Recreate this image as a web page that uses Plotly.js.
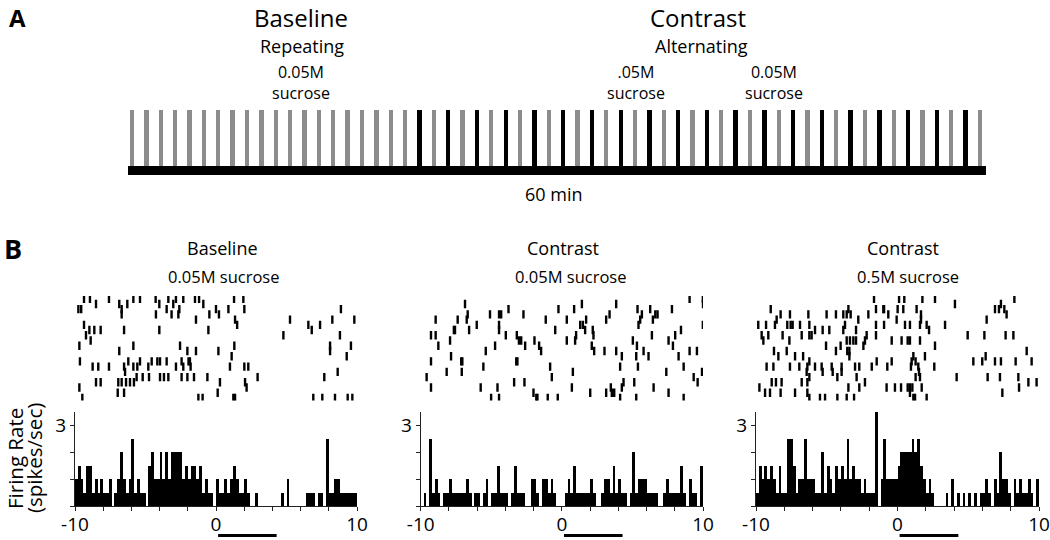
<!DOCTYPE html>
<html><head><meta charset="utf-8">
<script src="https://cdn.plot.ly/plotly-3.0.1.min.js"></script>
<style>html,body{margin:0;padding:0;background:#fff}#chart{width:1050px;height:540px}</style>
</head><body><div id="chart"></div>
<script>
// ---------- Panel A: session timeline (60 trials over 60 min) ----------
const trialNumbers = [1,2,3,4,5,6,7,8,9,10,11,12,13,14,15,16,17,18,19,20,
  21,22,23,24,25,26,27,28,29,30,31,32,33,34,35,36,37,38,39,40,
  41,42,43,44,45,46,47,48,49,50,51,52,53,54,55,56,57,58,59,60];
const trialSolution = [
  "0.05M","0.05M","0.05M","0.05M","0.05M","0.05M","0.05M","0.05M","0.05M","0.05M",
  "0.05M","0.05M","0.05M","0.05M","0.05M","0.05M","0.05M","0.05M","0.05M","0.05M",
  "0.5M","0.05M","0.5M","0.05M","0.5M","0.05M","0.5M","0.05M","0.5M","0.05M",
  "0.5M","0.05M","0.5M","0.05M","0.5M","0.05M","0.5M","0.05M","0.5M","0.05M",
  "0.5M","0.05M","0.5M","0.05M","0.5M","0.05M","0.5M","0.05M","0.5M","0.05M",
  "0.5M","0.05M","0.5M","0.05M","0.5M","0.05M","0.5M","0.05M","0.5M","0.05M"];
const trialMarkHeight = 1;
const solutionColor = {"0.05M": "#8c8c8c", "0.5M": "#000000"};

// ---------- Panel B: peri-stimulus histograms (0.2 s bins, spikes/sec) ----------
const binCenters = [-9.9,-9.7,-9.5,-9.3,-9.1,-8.9,-8.7,-8.5,-8.3,-8.1,
  -7.9,-7.7,-7.5,-7.3,-7.1,-6.9,-6.7,-6.5,-6.3,-6.1,
  -5.9,-5.7,-5.5,-5.3,-5.1,-4.9,-4.7,-4.5,-4.3,-4.1,
  -3.9,-3.7,-3.5,-3.3,-3.1,-2.9,-2.7,-2.5,-2.3,-2.1,
  -1.9,-1.7,-1.5,-1.3,-1.1,-0.9,-0.7,-0.5,-0.3,-0.1,
  0.1,0.3,0.5,0.7,0.9,1.1,1.3,1.5,1.7,1.9,
  2.1,2.3,2.5,2.7,2.9,3.1,3.3,3.5,3.7,3.9,
  4.1,4.3,4.5,4.7,4.9,5.1,5.3,5.5,5.7,5.9,
  6.1,6.3,6.5,6.7,6.9,7.1,7.3,7.5,7.7,7.9,
  8.1,8.3,8.5,8.7,8.9,9.1,9.3,9.5,9.7,9.9];
const rateBaseline = [1.0,1.5,1.0,0.5,1.5,1.5,0.5,1.0,0.5,1.0,
  0.5,0.5,1.0,0,0.5,1.0,2.0,1.0,0.5,1.0,
  2.5,0.5,1.0,0.5,0.5,0,1.5,2.0,1.0,1.0,
  2.0,1.0,2.0,1.0,2.0,2.0,2.0,2.0,1.0,1.5,
  1.0,1.5,1.5,1.0,1.5,0.5,1.0,0.5,0.5,0,
  1.0,0.5,0.5,1.0,0.5,1.0,1.5,1.0,0.5,0.5,
  1.0,0.5,0,0,0.5,0,0,0,0,0,
  0,0,0,0.5,0,1.0,0,0,0,0,
  0,0,0.5,0.5,0.5,0,0.5,0.5,0,2.5,
  0.5,0.5,1.0,1.0,0.5,0.5,0.5,0.5,0.5,0.5];
const rateContrastLow = [0,0.5,0,2.5,0.5,1.0,0.5,0,0.5,0.5,
  1.0,0.5,0.5,0.5,0.5,0.5,1.0,0.5,0,0.5,
  0.5,0,0.5,1.0,0,0.5,0.5,1.5,0.5,0.5,
  0.5,0,0.5,1.5,0.5,0.5,0.5,0,0,1.0,
  1.0,0.5,0,1.0,1.0,0.5,1.0,0.5,0,0,
  0,0.5,1.0,0.5,1.5,0.5,0.5,0.5,0.5,0.5,
  1.0,0.5,0,0,0.5,1.0,1.0,0.5,1.5,0.5,
  1.0,0.5,0.5,0,0.5,2.0,0.5,1.0,1.0,1.0,
  0.5,0.5,0.5,0.5,0,0,0.5,1.0,0.5,0.5,
  0.5,0.5,1.5,0.5,0,1.0,0.5,0.5,0,1.5];
const rateContrastHigh = [0.5,1.5,1.0,1.5,1.0,1.5,1.0,0.5,1.5,0.5,
  0.5,2.5,2.5,1.5,0.5,1.0,1.0,2.5,1.0,1.0,
  1.0,0.5,0.5,2.0,0.5,1.5,1.0,0.5,1.5,1.0,
  1.5,1.0,2.5,1.0,1.5,1.0,1.0,0.5,1.0,0.5,
  0.5,0.5,3.5,0,1.0,2.5,1.0,1.0,1.0,1.0,
  1.5,2.0,2.0,2.0,2.0,2.5,2.0,2.5,1.5,1.0,
  0.5,1.0,0.5,0,0,0,0,0.5,0,1.0,
  0,0.5,0,0.5,0,0.5,0,0.5,0,0.5,
  0.5,1.0,0.5,0,1.0,0.5,2.0,1.0,1.0,0.5,
  0,1.0,0.5,1.0,0.5,0.5,1.0,0.5,0,1.0];

// ---------- Panel B: rasters (spike times in s, one array per trial row, top to bottom) ----------
const rasterBaseline = [
  [-9.36,-8.94,-7.59,-5.86,-5.39,-4.28,-3.38,-2.84,-2.32,-1.49,-1.20,1.28,1.94],
  [-8.51,-6.86,-6.29,-4.02,-3.03,-0.90],
  [-9.76,-9.56,-6.69,-3.50,-2.60,0.00,0.88,2.01,8.86],
  [-6.69,-4.26,-3.15,-2.67,-0.47,0.21],
  [-1.42,1.35,5.25,8.25,9.81],
  [-9.36,1.50,6.55,7.38],
  [-8.98,-8.63,-8.18,-6.52,-4.02,-0.54,6.79],
  [-9.22,4.78,8.79],
  [-8.89],
  [-9.69,-5.86,-2.55,1.30,8.09,9.57],
  [-6.86,-2.03,-1.42,0.17,8.09],
  [1.11,9.27],
  [-9.65,-6.22,-5.39,-4.56,-4.16,-3.97,-3.50,-2.44,-1.95,-1.85],
  [-8.75,-8.35,-7.59,-6.52,-5.86,-5.58,-4.80,-2.84,-2.32,-1.80,0.99,2.01,2.29],
  [-6.45,8.63],
  [-5.63,-5.20,-4.75,-3.97,-3.69,-3.38,-2.44,-2.03,-1.56,-0.61,2.95,7.68],
  [-8.51,-8.18,-6.93,-6.69,-6.38,-6.10,-5.82,0.28,2.06],
  [-9.69,2.17],
  [-6.97,-6.52,0.12],
  [-9.48,-1.25,-0.95,1.23,1.35,6.90,7.54,8.44,9.34,9.67]];
const rasterContrastLow = [
  [9.05,9.99],
  [-6.86,1.42,3.85,10.0],
  [-3.78,-0.24,0.87,5.36,6.26,7.80],
  [-6.67,-5.09,-4.45,-4.30,-2.72,3.38,5.67,6.62,6.78],
  [-8.94,-7.38,-6.74,-1.14,0.35,1.72,3.14,5.55,6.45],
  [-6.03,-4.45,1.30,1.49,5.43,9.99],
  [-7.65,-7.57,-6.57,-4.45,-0.47,1.65,2.19,8.44],
  [-9.27,-8.94,-3.97,-3.19,1.01,2.24,6.38,8.03],
  [-7.92,-3.04,-2.88,-1.94,0.35,0.94,5.03,7.56],
  [-8.75,-4.73,-2.60,-1.61,2.12,5.32,7.87],
  [-5.39,-1.47,2.29,3.02,3.85,5.79,9.05,9.57],
  [-7.85,4.25,5.27,6.14,8.27],
  [-9.27,-7.13,-7.05,-3.23,-3.15],
  [-5.56,-0.83,4.13,5.39,8.63],
  [-8.16,-7.09,0.78,7.40,9.93],
  [-9.58,-0.71,9.34],
  [-3.38,-2.65,4.37,5.13,9.62],
  [-9.27,-5.75,-4.56,0.71,3.47,4.25,6.50],
  [-2.01,2.01,3.14,3.54,3.71,7.56],
  [-5.01,-4.45,-1.81,-1.73,-1.00,-0.29,4.13,5.27,8.63]];
const rasterContrastHigh = [
  [-1.66,0.11,0.48,1.76,2.65,8.26],
  [4.06,7.31],
  [-8.96,-3.47,-1.52,-1.00,-0.95,0.01,0.41,1.35,6.89,7.17,7.55],
  [-8.26,-7.60,-6.30,-5.01,-4.35,-3.83,-3.59,-3.31,-2.06,-0.65,1.66,7.71],
  [-8.54,-2.77,-0.06,1.66,6.30],
  [-9.84,-9.29,-8.66,-7.79,-7.55,-7.41,-6.89,-6.23,-3.71,-1.52,-0.95,0.53,0.88,1.59,2.06,3.36],
  [-5.83,-5.29,-4.82,-3.83,-2.93,2.23],
  [-9.60,-9.13,-8.12,-6.77,-6.23,-6.07,-2.18,-1.52,4.96,6.14,7.64,8.19],
  [-9.48,-7.64,-3.59,-3.36,-3.12,-2.93,-2.30,-0.41,0.29,0.72,0.88,1.59],
  [-5.05,-4.02,-2.41,2.65],
  [-8.73,-7.83,-4.35,-3.55,-3.40,9.13],
  [-8.42,-7.24,-6.67,-3.40,1.12,1.94,6.23],
  [-6.23,-1.47,-0.41,1.00,1.28,5.36,5.99,6.89,7.31,8.35,9.48],
  [-9.25,-8.77,-7.60,-6.94,-6.37,-5.83,-5.36,-4.65,-3.95,-3.00,-2.70,-1.82,-0.72,0.95,1.47,2.60],
  [-6.42,-5.29,-4.58,-3.95,1.52],
  [-6.23,-4.25,-2.89,1.28,1.59,4.18,6.37,7.24,8.54],
  [-8.89,-8.59,-8.19,-6.77,-6.37,-2.30,9.25,9.83],
  [-9.76,-3.47,-2.70,-0.77,-0.18,0.25,0.72,0.88,1.05,1.71,8.59],
  [-9.36,-9.01,-8.26,-7.24,-6.37,0.88,7.41],
  [-6.23,-5.48,-5.12,-4.25,-3.59,-3.07,1.12,1.24,2.06]];

const timeTicks = [-10,-8,-6,-4,-2,0,2,4,6,8,10];
const timeTickText = ["-10","","","","","0","","","","","10"];
const rateTicks = [0,1,2,3];
const rateTickText = ["","","","3"];
const stimWindow = [0.15, 4.3];   // bar under each histogram (s)

// ---------- build ----------
const FONT = "Open Sans, Lato, Arial, sans-serif";
const W = 1050, H = 540;
const px = v => v / W, py = v => 1 - v / H;

const traces = [];
traces.push({
  type: "bar", x: trialNumbers, y: trialNumbers.map(() => trialMarkHeight),
  width: 0.3, marker: {color: trialSolution.map(s => solutionColor[s]), line: {width: 0}},
  xaxis: "x4", yaxis: "y7", hoverinfo: "skip"
});

const panels = [
  {rates: rateBaseline, raster: rasterBaseline, xa: "x", ya: "y", ra: "y4"},
  {rates: rateContrastLow, raster: rasterContrastLow, xa: "x2", ya: "y2", ra: "y5"},
  {rates: rateContrastHigh, raster: rasterContrastHigh, xa: "x3", ya: "y3", ra: "y6"}
];
panels.forEach(p => {
  traces.push({type: "bar", x: binCenters, y: p.rates, width: 0.2,
    marker: {color: "#000", line: {width: 0}}, xaxis: p.xa, yaxis: p.ya, hoverinfo: "skip"});
  const rx = [], ry = [];
  p.raster.forEach((row, i) => row.forEach(t => { rx.push(t); ry.push(i); }));
  traces.push({type: "scatter", mode: "markers", x: rx, y: ry,
    marker: {symbol: "line-ns", size: 6, line: {width: 2.4, color: "#000"}},
    xaxis: p.xa, yaxis: p.ra, hoverinfo: "skip"});
});

const histX = [[75, 357], [420.7, 703], [756, 1039]];
const histY = [412, 506.3];
const rasterY = [296.1, 400.6];

function timeAxis(i, anchor) {
  return {domain: [px(histX[i][0]), px(histX[i][1])], range: [-10, 10], anchor: anchor,
    showgrid: false, zeroline: false, showline: true, linecolor: "#222", linewidth: 1,
    ticks: "outside", ticklen: 4, tickwidth: 1, tickcolor: "#222",
    tickmode: "array", tickvals: timeTicks, ticktext: timeTickText, ticklabelstandoff: -3,
    tickfont: {family: FONT, size: 19, color: "#000"}, fixedrange: true};
}
function rateAxis(anchor) {
  return {domain: [py(histY[1]), py(histY[0])], range: [0, 3.49], anchor: anchor,
    showgrid: false, zeroline: false, showline: true, linecolor: "#222", linewidth: 1,
    ticks: "outside", ticklen: 4, tickwidth: 1, tickcolor: "#222",
    tickmode: "array", tickvals: rateTicks, ticktext: rateTickText,
    tickfont: {family: FONT, size: 19, color: "#000"}, fixedrange: true};
}
function rasterAxis(anchor) {
  return {domain: [py(rasterY[1]), py(rasterY[0])], range: [19.5, -0.5], anchor: anchor,
    visible: false, fixedrange: true};
}

const ann = (x, y, text, size, extra) => Object.assign({
  xref: "paper", yref: "paper", x: px(x), y: py(y), text: text, showarrow: false,
  xanchor: "center", yanchor: "middle", font: {family: FONT, size: size, color: "#000"}
}, extra || {});

const annotations = [
  ann(17, 18, "<b>A</b>", 24),
  ann(301, 18, "Baseline", 24),
  ann(698, 18, "Contrast", 24),
  ann(301.5, 46, "Repeating", 18),
  ann(701, 46, "Alternating", 18),
  ann(301, 82, "0.05M<br>sucrose", 16),
  ann(636, 82, ".05M<br>sucrose", 16),
  ann(774, 82, "0.05M<br>sucrose", 16),
  ann(554, 194, "60 min", 18),
  ann(13, 248, "<b>B</b>", 27),
  ann(222, 248, "Baseline", 18), ann(223, 276, "0.05M sucrose", 16.5),
  ann(563, 248, "Contrast", 18), ann(570, 276, "0.05M sucrose", 16.5),
  ann(903, 248, "Contrast", 18), ann(908, 276, "0.5M sucrose", 16.5),
  ann(15, 459, "Firing Rate", 20.5, {textangle: -90}),
  ann(34, 458, "(spikes/sec)", 20.5, {textangle: -90})
];

const shapes = ["x", "x2", "x3"].map(xa => ({
  type: "line", xref: xa, yref: "paper", x0: stimWindow[0], x1: stimWindow[1],
  y0: py(535.5), y1: py(535.5), line: {color: "#000", width: 3}
}));

const layout = {
  width: W, height: H, margin: {l: 0, r: 0, t: 0, b: 0},
  paper_bgcolor: "#fff", plot_bgcolor: "rgba(0,0,0,0)", showlegend: false,
  bargap: 0, font: {family: FONT, color: "#000"},
  xaxis: timeAxis(0, "y"), xaxis2: timeAxis(1, "y2"), xaxis3: timeAxis(2, "y3"),
  yaxis: rateAxis("x"), yaxis2: rateAxis("x2"), yaxis3: rateAxis("x3"),
  yaxis4: rasterAxis("x"), yaxis5: rasterAxis("x2"), yaxis6: rasterAxis("x3"),
  xaxis4: {domain: [px(128), px(986)], range: [0.72, 60.42], anchor: "y7",
    showgrid: false, zeroline: false, showline: true, linecolor: "#000", linewidth: 9,
    showticklabels: false, ticks: "", fixedrange: true},
  yaxis7: {domain: [py(166), py(110)], range: [0, 1], anchor: "x4", visible: false, fixedrange: true},
  annotations: annotations, shapes: shapes
};

Plotly.newPlot("chart", traces, layout, {staticPlot: true, displayModeBar: false});
</script></body></html>
